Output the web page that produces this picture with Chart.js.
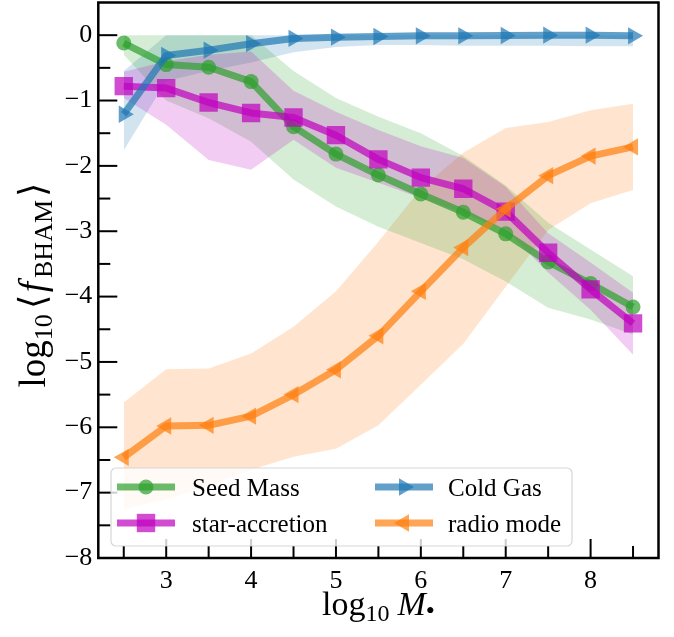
<!DOCTYPE html>
<html><head><meta charset="utf-8">
<script src="https://cdn.jsdelivr.net/npm/chart.js@4/dist/chart.umd.min.js"></script>
<style>html,body{margin:0;padding:0;background:#fff;}#wrap{width:674px;height:637px;}</style>
</head><body><div id="wrap"><canvas id="c" width="674" height="637"></canvas></div>
<script>
// ---- data ----
const logM = [2.5, 3, 3.5, 4, 4.5, 5, 5.5, 6, 6.5, 7, 7.5, 8, 8.5];

const seedMass   = [-0.12, -0.45, -0.49, -0.71, -1.40, -1.82, -2.14, -2.43, -2.71, -3.04, -3.47, -3.80, -4.16];
const seedMassHi = [0.00, 0.00, 0.00, 0.00, -0.55, -0.96, -1.25, -1.50, -1.85, -2.30, -2.87, -3.28, -3.69];
const seedMassLo = [-0.30, -1.00, -1.27, -1.63, -2.21, -2.62, -2.93, -3.18, -3.43, -3.77, -4.17, -4.35, -4.58];

const starAcc   = [-0.78, -0.81, -1.03, -1.19, -1.26, -1.53, -1.90, -2.18, -2.35, -2.70, -3.33, -3.89, -4.41];
const starAccHi = [-0.56, -0.40, -0.30, -0.25, -0.85, -1.17, -1.45, -1.70, -1.88, -2.32, -3.03, -3.48, -3.94];
const starAccLo = [-0.96, -1.37, -1.91, -2.06, -1.60, -2.03, -2.26, -2.49, -2.72, -2.98, -3.63, -4.20, -4.89];

const coldGas   = [-1.21, -0.31, -0.23, -0.13, -0.05, -0.03, -0.02, -0.01, -0.01, -0.005, 0.00, 0.00, -0.01];
const coldGasHi = [-0.55, 0.00, 0.00, 0.00, 0.00, 0.00, 0.00, 0.00, 0.00, 0.00, 0.00, 0.00, 0.00];
const coldGasLo = [-1.76, -0.70, -0.55, -0.42, -0.26, -0.18, -0.15, -0.15, -0.16, -0.16, -0.16, -0.17, -0.17];

const radioMode   = [-6.46, -5.98, -5.97, -5.83, -5.50, -5.12, -4.60, -3.92, -3.25, -2.66, -2.15, -1.85, -1.71];
const radioModeHi = [-5.62, -5.11, -5.10, -4.87, -4.46, -3.92, -3.16, -2.35, -1.80, -1.42, -1.33, -1.15, -1.05];
const radioModeLo = [-7.25, -7.10, -6.90, -6.65, -6.45, -6.33, -5.97, -5.35, -4.72, -3.85, -2.98, -2.57, -2.37];

const seriesNames = ['Seed Mass', 'star-accretion', 'Cold Gas', 'radio mode'];

const xTicks = [3, 4, 5, 6, 7, 8];
const xMinorTicks = [2.5, 3.5, 4.5, 5.5, 6.5, 7.5, 8.5];
const yTicks = [-8, -7, -6, -5, -4, -3, -2, -1, 0];
const yMinorTicks = [-7.5, -6.5, -5.5, -4.5, -3.5, -2.5, -1.5, -0.5];

// ---- styles ----
const COL = {green:'44,160,44', mag:'191,0,191', blue:'31,119,180', orange:'255,127,14'};
const SERIF = "'Liberation Serif', 'Times New Roman', serif";
const pts = ys => logM.map((x, i) => ({x: x, y: ys[i]}));

function lineDS(label, ys, c, style, radius, rot, order) {
  return {
    label: label, data: pts(ys), borderColor: `rgba(${c},0.7)`, backgroundColor: `rgba(${c},0.7)`,
    borderWidth: 7, borderJoinStyle: 'round', borderCapStyle: 'butt', fill: false, tension: 0,
    pointStyle: style, pointRadius: radius, pointHoverRadius: radius, pointRotation: rot,
    pointBackgroundColor: `rgba(${c},0.7)`, pointBorderWidth: 0, pointBorderColor: 'rgba(0,0,0,0)',
    order: order
  };
}
function bandHi(ys, c, target, order) {
  return {label: '', data: pts(ys), borderWidth: 0, borderColor: 'rgba(0,0,0,0)', pointRadius: 0,
          pointHoverRadius: 0, fill: target, backgroundColor: `rgba(${c},0.2)`, tension: 0, order: order};
}
function bandLo(ys, order) {
  return {label: '', data: pts(ys), borderWidth: 0, borderColor: 'rgba(0,0,0,0)', pointRadius: 0,
          pointHoverRadius: 0, fill: false, backgroundColor: 'rgba(0,0,0,0)', tension: 0, order: order};
}

const datasets = [
  lineDS(seriesNames[0], seedMass, COL.green, 'circle', 7.5, 0, 3),
  lineDS(seriesNames[1], starAcc, COL.mag, 'rect', 13, 0, 2),
  lineDS(seriesNames[2], coldGas, COL.blue, 'triangle', 10, 90, 1),
  lineDS(seriesNames[3], radioMode, COL.orange, 'triangle', 10, -90, 0),
  bandHi(seedMassHi, COL.green, 5, 13), bandLo(seedMassLo, 14),
  bandHi(starAccHi, COL.mag, 7, 11), bandLo(starAccLo, 12),
  bandHi(coldGasHi, COL.blue, 9, 15), bandLo(coldGasLo, 16),
  bandHi(radioModeHi, COL.orange, 11, 17), bandLo(radioModeLo, 18)
];

// ---- helpers ----
function marker(ctx, style, r, rot, x, y) {
  ctx.beginPath();
  if (style === 'circle') { ctx.arc(x, y, r, 0, Math.PI * 2); }
  else if (style === 'rect') { const s = r * Math.SQRT1_2; ctx.rect(x - s, y - s, 2 * s, 2 * s); }
  else {
    let a = rot * Math.PI / 180;
    for (let k = 0; k < 3; k++) {
      const px = x + Math.sin(a) * r, py = y - Math.cos(a) * r;
      k === 0 ? ctx.moveTo(px, py) : ctx.lineTo(px, py);
      a += 2 * Math.PI / 3;
    }
    ctx.closePath();
  }
  ctx.fill();
}
function richWidth(ctx, parts) {
  let w = 0;
  parts.forEach(p => { ctx.font = `${p.it ? 'italic ' : ''}${p.s}px ${SERIF}`; w += ctx.measureText(p.t).width + (p.g || 0); });
  return w;
}
function drawRich(ctx, parts, cx, by) {
  let x = cx - richWidth(ctx, parts) / 2;
  parts.forEach(p => {
    ctx.font = `${p.it ? 'italic ' : ''}${p.s}px ${SERIF}`;
    ctx.fillText(p.t, x, by + (p.dy || 0));
    x += ctx.measureText(p.t).width + (p.g || 0);
  });
}

const decor = {
  id: 'decor',
  afterDraw(chart) {
    const ctx = chart.ctx, a = chart.chartArea, xs = chart.scales.x, ys = chart.scales.y;
    ctx.save();
    ctx.strokeStyle = '#000'; ctx.fillStyle = '#000';
    // ticks (inward)
    ctx.lineWidth = 2;
    const tk = (v, len, isX) => {
      ctx.beginPath();
      if (isX) { const p = xs.getPixelForValue(v); ctx.moveTo(p, a.bottom); ctx.lineTo(p, a.bottom - len); }
      else { const p = ys.getPixelForValue(v); ctx.moveTo(a.left, p); ctx.lineTo(a.left + len, p); }
      ctx.stroke();
    };
    xTicks.forEach(v => tk(v, 19, true)); xMinorTicks.forEach(v => tk(v, 12, true));
    yTicks.forEach(v => tk(v, 19, false)); yMinorTicks.forEach(v => tk(v, 12, false));

    // legend
    const L = {x: 111, y: 468, w: 461, h: 78, r: 5};
    ctx.beginPath();
    ctx.moveTo(L.x + L.r, L.y); ctx.arcTo(L.x + L.w, L.y, L.x + L.w, L.y + L.h, L.r);
    ctx.arcTo(L.x + L.w, L.y + L.h, L.x, L.y + L.h, L.r); ctx.arcTo(L.x, L.y + L.h, L.x, L.y, L.r);
    ctx.arcTo(L.x, L.y, L.x + L.w, L.y, L.r); ctx.closePath();
    ctx.fillStyle = 'rgba(255,255,255,0.8)'; ctx.fill();
    ctx.strokeStyle = 'rgba(204,204,204,0.8)'; ctx.lineWidth = 1.2; ctx.stroke();
    const items = [
      {ds: 0, hx: 117, tx: 192, cy: 487},
      {ds: 1, hx: 117, tx: 192, cy: 523},
      {ds: 2, hx: 375, tx: 448, cy: 487},
      {ds: 3, hx: 375, tx: 448, cy: 523}
    ];
    items.forEach(it => {
      const d = chart.data.datasets[it.ds];
      ctx.strokeStyle = d.borderColor; ctx.lineWidth = 7; ctx.lineCap = 'butt';
      ctx.beginPath(); ctx.moveTo(it.hx, it.cy); ctx.lineTo(it.hx + 58, it.cy); ctx.stroke();
      ctx.fillStyle = d.pointBackgroundColor;
      marker(ctx, d.pointStyle, d.pointRadius, d.pointRotation, it.hx + 29, it.cy);
      ctx.fillStyle = '#000'; ctx.font = `25px ${SERIF}`; ctx.textBaseline = 'alphabetic'; ctx.textAlign = 'left';
      ctx.fillText(d.label, it.tx, it.cy + 9);
    });

    // spines
    ctx.strokeStyle = '#000'; ctx.lineWidth = 2.5;
    ctx.strokeRect(a.left, a.top, a.right - a.left, a.bottom - a.top);

    // axis titles
    ctx.fillStyle = '#000'; ctx.textAlign = 'left'; ctx.textBaseline = 'alphabetic';
    drawRich(ctx, [
      {t: 'log', s: 34}, {t: '10', s: 24, dy: 6, g: 8}, {t: 'M', s: 34, it: true}, {t: '•', s: 26, dy: 4}
    ], (a.left + a.right) / 2, 615);
    ctx.save();
    ctx.translate(45, (a.top + a.bottom) / 2 + 5);
    ctx.rotate(-Math.PI / 2);
    drawRich(ctx, [
      {t: 'log', s: 37}, {t: '10', s: 26, dy: 7, g: 5}, {t: '⟨', s: 37, g: 3}, {t: 'f', s: 37, it: true, g: 4},
      {t: 'BHAM', s: 26, dy: 7, g: 3}, {t: '⟩', s: 37}
    ], 0, 0);
    ctx.restore();
    ctx.restore();
  }
};

const minusFmt = v => (v < 0 ? '\u2212' + Math.abs(v) : String(v));
const noPad = s => { s.paddingTop = 0; s.paddingBottom = 0; s.paddingLeft = 0; s.paddingRight = 0; };

new Chart(document.getElementById('c'), {
  type: 'line',
  data: {datasets: datasets},
  plugins: [decor],
  options: {
    responsive: false, animation: false, devicePixelRatio: 1,
    layout: {autoPadding: false, padding: {left: 0, right: 15.5, top: 2.5, bottom: 0}},
    plugins: {legend: {display: false}, tooltip: {enabled: false}, filler: {propagate: false}},
    scales: {
      x: {
        type: 'linear', min: 2.2, max: 8.8,
        afterBuildTicks: s => { s.ticks = xTicks.map(v => ({value: v})); },
        afterFit: s => { s.height = 79; noPad(s); },
        grid: {display: false, drawTicks: false}, border: {display: false},
        ticks: {padding: 8, color: '#000', font: {family: SERIF, size: 26}, callback: minusFmt, maxRotation: 0, autoSkip: false},
        title: {display: false}
      },
      y: {
        type: 'linear', min: -8, max: 0.5,
        afterBuildTicks: s => { s.ticks = yTicks.map(v => ({value: v})); },
        afterFit: s => { s.width = 98.3; noPad(s); },
        grid: {display: false, drawTicks: false}, border: {display: false},
        ticks: {padding: 6, color: '#000', font: {family: SERIF, size: 26}, callback: minusFmt, autoSkip: false},
        title: {display: false}
      }
    }
  }
});
</script>
</body></html>
